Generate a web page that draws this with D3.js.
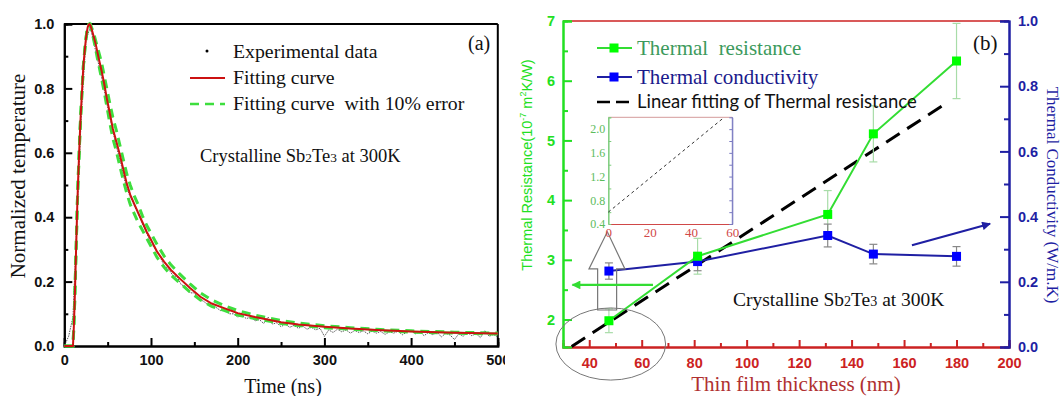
<!DOCTYPE html>
<html><head><meta charset="utf-8">
<script src="https://cdn.jsdelivr.net/npm/d3@7"></script>
<style>body{margin:0;background:#fff}svg{display:block}</style>
</head><body>
<svg id="chart" width="1063" height="396"></svg>
<script>
// ---------- Panel (a) data ----------
const fitT   = [0,5,9,10,11,12,13,14,15,16,17,18,19,20,21,22,23,24,25,26,27,28,29,30,32,34,36,38,40,43,46,49,52,56,60,64,68,72,76,80,85,90,95,100,107,115,123,133,145,157,170,185,195,200,220,237,250,270,300,330,360,400,450,500];
const fitV   = [0,0,0,0,0.06,0.14,0.24,0.34,0.44,0.52,0.59,0.66,0.72,0.77,0.82,0.87,0.90,0.93,0.955,0.975,0.99,0.998,1.0,0.997,0.98,0.96,0.94,0.915,0.89,0.855,0.815,0.77,0.73,0.675,0.635,0.595,0.55,0.505,0.47,0.445,0.415,0.385,0.355,0.33,0.293,0.262,0.236,0.21,0.18,0.153,0.132,0.117,0.107,0.102,0.09,0.081,0.074,0.067,0.06,0.054,0.05,0.045,0.041,0.039];
const upperV = [0,0,0,0,0.06,0.14,0.24,0.34,0.44,0.52,0.59,0.66,0.72,0.77,0.82,0.87,0.90,0.93,0.955,0.975,0.99,0.998,1.0,1.0,0.985,0.97,0.95,0.93,0.91,0.88,0.84,0.80,0.76,0.71,0.67,0.625,0.58,0.535,0.50,0.47,0.44,0.405,0.375,0.35,0.315,0.28,0.252,0.224,0.193,0.165,0.143,0.125,0.115,0.11,0.096,0.086,0.079,0.071,0.063,0.057,0.052,0.047,0.043,0.04];
const lowerV = [0,0,0,0,0.06,0.14,0.24,0.34,0.44,0.52,0.59,0.66,0.72,0.77,0.82,0.87,0.90,0.93,0.955,0.975,0.99,0.998,1.0,0.993,0.975,0.95,0.925,0.895,0.87,0.83,0.79,0.745,0.70,0.645,0.605,0.56,0.515,0.475,0.44,0.415,0.385,0.36,0.335,0.31,0.275,0.245,0.22,0.196,0.168,0.143,0.123,0.11,0.1,0.096,0.085,0.077,0.07,0.064,0.057,0.052,0.048,0.043,0.04,0.037];
const expT = [0,5,10,15,20,25,30,35,40,45,50,55,60,65,70,75,80,85,90,95,100,105,110,115,120,125,130,135,140,145,150,155,160,165,170,175,180,185,190,195,200,205,210,215,220,225,230,235,240,245,250,255,260,265,270,275,280,285,290,295,300,305,310,315,320,325,330,335,340,345,350,355,360,365,370,375,380,385,390,395,400,405,410,415,420,425,430,435,440,445,450,455,460,465,470,475,480,485,490,495,500];
const expV = [0,0.03,0.09,0.42,0.74,0.95,0.99,0.93,0.87,0.81,0.74,0.68,0.62,0.57,0.51,0.47,0.44,0.41,0.38,0.35,0.32,0.30,0.28,0.25,0.24,0.22,0.215,0.19,0.185,0.165,0.165,0.145,0.14,0.13,0.125,0.12,0.11,0.115,0.10,0.10,0.09,0.095,0.085,0.09,0.078,0.082,0.07,0.09,0.068,0.072,0.06,0.068,0.058,0.064,0.055,0.062,0.052,0.058,0.05,0.055,0.03,0.05,0.042,0.052,0.044,0.05,0.04,0.048,0.042,0.047,0.038,0.046,0.04,0.045,0.036,0.044,0.04,0.046,0.035,0.043,0.048,0.038,0.044,0.032,0.042,0.035,0.043,0.028,0.04,0.034,0.02,0.038,0.03,0.042,0.032,0.038,0.026,0.048,0.03,0.036,0.028];
const aXTicks = [0,100,200,300,400,500];
const aXMinor = [50,150,250,350,450];
const aYTicks = [0,0.2,0.4,0.6,0.8,1.0];
const aYMinor = [0.1,0.3,0.5,0.7,0.9];

// ---------- Panel (b) data ----------
const thickness   = [47.5,81.3,130.9,148.3,180];
const resistance  = [1.98,3.06,3.76,5.11,6.33];
const resistErr   = [0.2,0.3,0.4,0.47,0.63];
const conductivity= [0.233,0.262,0.342,0.285,0.278];
const conductErr  = [0.025,0.028,0.035,0.03,0.03];
const fitLineX = [33.3,176];
const fitLineY = [1.55,5.62];
const insetLineX = [0,55.4];
const insetLineY = [0.6,2.18];
const bXTicks = [40,60,80,100,120,140,160,180,200];
const bXMinor = [50,70,90,110,130,150,170,190];
const bYLTicks = [2,3,4,5,6,7];
const bYLMinor = [2.5,3.5,4.5,5.5,6.5];
const bYRTicks = [0,0.2,0.4,0.6,0.8,1.0];
const bYRMinor = [0.1,0.3,0.5,0.7,0.9];
const insetXTicks = [0,20,40,60];
const insetYTicks = [0.4,0.8,1.2,1.6,2.0];

const svg = d3.select("#chart");
const serif = "'Liberation Serif','DejaVu Serif',serif";
const sans = "'Liberation Sans',Arial,sans-serif";

// ================= Panel (a) =================
svg.append("clipPath").attr("id","clipA").append("rect").attr("x",0).attr("y",0).attr("width",505).attr("height",396);
const A = svg.append("g").attr("clip-path","url(#clipA)");
const xa = d3.scaleLinear().domain([0,500]).range([64.3,497.8]);
const ya = d3.scaleLinear().domain([0,1]).range([346,24]);

function styleAxis(g, color, sw){
  g.select(".domain").attr("stroke",color).attr("stroke-width",sw);
  g.selectAll(".tick line").attr("stroke",color).attr("stroke-width",sw);
}
let g = A.append("g").attr("transform","translate(0,346)").call(d3.axisBottom(xa).tickValues(aXMinor).tickSize(-4).tickFormat(""));
styleAxis(g,"#000",2);
g = A.append("g").attr("transform","translate(64.3,0)").call(d3.axisLeft(ya).tickValues(aYMinor).tickSize(-4).tickFormat(""));
styleAxis(g,"#000",2);
g = A.append("g").attr("transform","translate(0,346)").call(d3.axisBottom(xa).tickValues(aXTicks).tickSize(-8).tickPadding(9).tickFormat(d3.format("d")));
styleAxis(g,"#000",2);
g.selectAll("text").attr("font-family",sans).attr("font-weight","bold").attr("font-size",14.5).attr("fill","#111");
g = A.append("g").attr("transform","translate(64.3,0)").call(d3.axisLeft(ya).tickValues(aYTicks).tickSize(-8).tickPadding(10).tickFormat(d3.format(".1f")));
styleAxis(g,"#000",2);
g.selectAll("text").attr("font-family",sans).attr("font-weight","bold").attr("font-size",14.5).attr("fill","#111");
A.append("line").attr("x1",64.3).attr("x2",497.8).attr("y1",24).attr("y2",24).attr("stroke","#000").attr("stroke-width",2);
A.append("line").attr("x1",497.8).attr("x2",497.8).attr("y1",24).attr("y2",346).attr("stroke","#000").attr("stroke-width",2);

const lineA = d3.line().x(d=>xa(d[0])).y(d=>ya(d[1]));
A.append("path").attr("d",lineA(expT.map((t,i)=>[t,expV[i]]))).attr("fill","none").attr("stroke","#444").attr("stroke-width",0.9).attr("stroke-dasharray","1.5,1");
[upperV,lowerV].forEach(arr=>{
  A.append("path").attr("d",lineA(fitT.map((t,i)=>[t,arr[i]]))).attr("fill","none").attr("stroke","#3ede3e").attr("stroke-width",3).attr("stroke-dasharray","9,6");
});
A.append("path").attr("d",lineA(fitT.map((t,i)=>[t,fitV[i]]))).attr("fill","none").attr("stroke","#cc1111").attr("stroke-width",2);

// legend a
A.append("circle").attr("cx",207).attr("cy",51).attr("r",1.5).attr("fill","#000");
A.append("line").attr("x1",190).attr("x2",225).attr("y1",78).attr("y2",78).attr("stroke","#cc1111").attr("stroke-width",2);
A.append("line").attr("x1",190).attr("x2",225).attr("y1",104).attr("y2",104).attr("stroke","#3ede3e").attr("stroke-width",2.5).attr("stroke-dasharray","9,6");
const legA = [["Experimental data",58],["Fitting curve",84],["Fitting curve  with 10% error",110]];
legA.forEach(([t,y])=>A.append("text").attr("x",233).attr("y",y).attr("font-family",serif).attr("font-size",19.8).attr("fill","#111").attr("xml:space","preserve").text(t));
A.append("text").attr("x",468).attr("y",50).attr("font-family",serif).attr("font-size",20).attr("fill","#111").text("(a)");
function crystal(sel,x,y,fs){
  const t = sel.append("text").attr("x",x).attr("y",y).attr("font-family",serif).attr("font-size",fs).attr("fill","#111");
  t.append("tspan").text("Crystalline Sb");
  t.append("tspan").attr("font-size",fs*0.72).text("2");
  t.append("tspan").text("Te");
  t.append("tspan").attr("font-size",fs*0.72).text("3");
  t.append("tspan").text(" at 300K");
}
crystal(A,200,162,18.5);
A.append("text").attr("transform","translate(25,176) rotate(-90)").attr("text-anchor","middle").attr("font-family",serif).attr("font-size",21).attr("fill","#111").text("Normalized temperature");
A.append("text").attr("x",283).attr("y",393).attr("text-anchor","middle").attr("font-family",serif).attr("font-size",20).attr("fill","#111").text("Time (ns)");

// ================= Panel (b) =================
const B = svg.append("g");
const xb = d3.scaleLinear().domain([30,200]).range([563,1009]);
const yl = d3.scaleLinear().domain([1.54,7]).range([347,21]);
const yr = d3.scaleLinear().domain([0,1]).range([347,21]);
const GREEN="#22e022", BLUE="#1f1fa3", RED="#cc2222";

B.append("line").attr("x1",563).attr("x2",1009).attr("y1",21).attr("y2",21).attr("stroke",RED).attr("stroke-width",1.5);
g = B.append("g").attr("transform","translate(0,347)").call(d3.axisBottom(xb).tickValues(bXMinor).tickSize(-4).tickFormat(""));
styleAxis(g,RED,2);
g = B.append("g").attr("transform","translate(0,347)").call(d3.axisBottom(xb).tickValues(bXTicks).tickSize(-7).tickPadding(11).tickFormat(d3.format("d")));
styleAxis(g,RED,2);
g.selectAll("text").attr("font-family",sans).attr("font-weight","bold").attr("font-size",14.5).attr("fill",RED);
g = B.append("g").attr("transform","translate(563,0)").call(d3.axisLeft(yl).tickValues(bYLMinor).tickSize(-5).tickFormat(""));
styleAxis(g,GREEN,2);
g = B.append("g").attr("transform","translate(563,0)").call(d3.axisLeft(yl).tickValues(bYLTicks).tickSize(-9).tickPadding(8).tickFormat(d3.format("d")));
styleAxis(g,GREEN,2);
g.selectAll("text").attr("font-family",sans).attr("font-weight","bold").attr("font-size",14.5).attr("fill",GREEN);
g = B.append("g").attr("transform","translate(1009,0)").call(d3.axisRight(yr).tickValues(bYRMinor).tickSize(-5).tickFormat(""));
styleAxis(g,BLUE,2);
g = B.append("g").attr("transform","translate(1009,0)").call(d3.axisRight(yr).tickValues(bYRTicks).tickSize(-9).tickPadding(9).tickFormat(d3.format(".1f")));
styleAxis(g,BLUE,2);
g.selectAll("text").attr("font-family",sans).attr("font-weight","bold").attr("font-size",14.5).attr("fill",BLUE);

B.append("path").attr("d",d3.line().x(d=>xb(d[0])).y(d=>yl(d[1]))(fitLineX.map((x,i)=>[x,fitLineY[i]])))
  .attr("stroke","#000").attr("stroke-width",3).attr("stroke-dasharray","16,9").attr("fill","none");

function errBars(vals, errs, ys, color){
  thickness.forEach((t,i)=>{
    const x=xb(t), y1=ys(vals[i]-errs[i]), y2=ys(vals[i]+errs[i]);
    B.append("line").attr("x1",x).attr("x2",x).attr("y1",y1).attr("y2",y2).attr("stroke",color).attr("stroke-width",1.2);
    [y1,y2].forEach(y=>B.append("line").attr("x1",x-4).attr("x2",x+4).attr("y1",y).attr("y2",y).attr("stroke",color).attr("stroke-width",1.2));
  });
}
errBars(resistance,resistErr,yl,"#a8dca8");
errBars(conductivity,conductErr,yr,"#888");
B.append("path").attr("d",d3.line().x((d,i)=>xb(thickness[i])).y(d=>yr(d))(conductivity)).attr("fill","none").attr("stroke",BLUE).attr("stroke-width",2);
B.append("path").attr("d",d3.line().x((d,i)=>xb(thickness[i])).y(d=>yl(d))(resistance)).attr("fill","none").attr("stroke","#33dd33").attr("stroke-width",2);
conductivity.forEach((v,i)=>B.append("rect").attr("x",xb(thickness[i])-4.5).attr("y",yr(v)-4.5).attr("width",9).attr("height",9).attr("fill","#0000ff"));
resistance.forEach((v,i)=>B.append("rect").attr("x",xb(thickness[i])-4.5).attr("y",yl(v)-4.5).attr("width",9).attr("height",9).attr("fill","#00ff00"));

B.append("line").attr("x1",597).attr("x2",632).attr("y1",48).attr("y2",48).attr("stroke","#33dd33").attr("stroke-width",2);
B.append("rect").attr("x",609.5).attr("y",43.5).attr("width",9).attr("height",9).attr("fill","#00ff00");
B.append("line").attr("x1",597).attr("x2",632).attr("y1",77).attr("y2",77).attr("stroke",BLUE).attr("stroke-width",2);
B.append("rect").attr("x",609.5).attr("y",72.5).attr("width",9).attr("height",9).attr("fill","#0000ff");
B.append("line").attr("x1",597).attr("x2",632).attr("y1",102).attr("y2",102).attr("stroke","#000").attr("stroke-width",2.5).attr("stroke-dasharray","13,6");
B.append("text").attr("x",637).attr("y",55).attr("font-family",serif).attr("font-size",21).attr("fill","#3c9a5c").attr("xml:space","preserve").text("Thermal  resistance");
B.append("text").attr("x",637).attr("y",84).attr("font-family",serif).attr("font-size",21).attr("fill","#1a1a8c").text("Thermal conductivity");
B.append("text").attr("x",637).attr("y",108).attr("font-family","Lato,'Open Sans',sans-serif").attr("font-size",18.5).attr("fill","#111").text("Linear fitting of Thermal resistance");
B.append("text").attr("x",973).attr("y",50).attr("font-family",serif).attr("font-size",21).attr("fill","#111").text("(b)");
crystal(B,733,306,19.5);

B.append("ellipse").attr("cx",xb(48.2)).attr("cy",yl(1.59)).attr("rx",xb(48.2+20.9)-xb(48.2)).attr("ry",yl(1.59)-yl(1.59+0.604))
  .attr("fill","none").attr("stroke","#777").attr("stroke-width",1);
const hollow = [[43.2,2.16],[43.2,2.848],[39.9,2.848],[46.9,3.47],[53.6,2.848],[50.44,2.848],[50.44,2.16]];
B.append("path").attr("d",d3.line().x(d=>xb(d[0])).y(d=>yl(d[1]))(hollow)+"Z").attr("fill","none").attr("stroke","#777").attr("stroke-width",1.2);
svg.append("defs").html('<marker id="ag" viewBox="0 0 10 10" refX="9" refY="5" markerWidth="5" markerHeight="4" orient="auto-start-reverse"><path d="M0,0L10,5L0,10Z" fill="#33dd33"/></marker><marker id="ab" viewBox="0 0 10 10" refX="9" refY="5" markerWidth="5" markerHeight="4" orient="auto-start-reverse"><path d="M0,0L10,5L0,10Z" fill="#1f1fa3"/></marker>');
B.append("line").attr("x1",xb(64.3)).attr("x2",xb(33.6)).attr("y1",yl(2.58)).attr("y2",yl(2.58)).attr("stroke","#33dd33").attr("stroke-width",2.2).attr("marker-end","url(#ag)");
B.append("line").attr("x1",xb(163)).attr("x2",xb(192.8)).attr("y1",yr(0.312)).attr("y2",yr(0.378)).attr("stroke",BLUE).attr("stroke-width",2.2).attr("marker-end","url(#ab)");

const xi = d3.scaleLinear().domain([0,60]).range([608.3,732.3]);
const yi = d3.scaleLinear().domain([0.4,2.2]).range([224,117.3]);
const I = B.append("g");
I.append("rect").attr("x",608.3).attr("y",117.3).attr("width",124).attr("height",106.7).attr("fill","#fff");
I.append("line").attr("x1",608.3).attr("x2",732.3).attr("y1",117.3).attr("y2",117.3).attr("stroke","#d49a9a").attr("stroke-width",1);
I.append("line").attr("x1",732.3).attr("x2",732.3).attr("y1",117.3).attr("y2",224).attr("stroke","#7a7ac0").attr("stroke-width",1);
g = I.append("g").attr("transform","translate(0,224)").call(d3.axisBottom(xi).tickValues(insetXTicks).tickSize(0).tickPadding(4).tickFormat(d3.format("d")));
styleAxis(g,"#d04848",1.2);
g.selectAll("text").attr("font-family",serif).attr("font-size",13).attr("fill","#d04848");
g = I.append("g").attr("transform","translate(608.3,0)").call(d3.axisLeft(yi).tickValues(insetYTicks).tickSize(0).tickPadding(3).tickFormat(d3.format(".1f")));
styleAxis(g,"#7ccc7c",1.2);
g.selectAll("text").attr("font-family",serif).attr("font-size",12).attr("fill","#5cbc5c");
g = I.append("g").attr("transform","translate(608.3,0)").call(d3.axisLeft(yi).tickValues([0.6,1.0,1.4,1.8,2.2]).tickSize(-3).tickFormat(""));
styleAxis(g,"#7ccc7c",1);
g = I.append("g").attr("transform","translate(732.3,0)").call(d3.axisRight(yi).tickValues([0.4,0.6,0.8,1.0,1.2,1.4,1.6,1.8,2.0]).tickSize(-3).tickFormat(""));
styleAxis(g,"#7a7ac0",1);
I.append("path").attr("d",d3.line().x(d=>xi(d[0])).y(d=>yi(d[1]))(insetLineX.map((x,i)=>[x,insetLineY[i]])))
  .attr("stroke","#333").attr("stroke-width",1).attr("stroke-dasharray","3,3").attr("fill","none");

const lt = B.append("text").attr("transform","translate(532,165) rotate(-90)").attr("text-anchor","middle").attr("font-family",sans).attr("font-size",14.5).attr("fill",GREEN);
lt.append("tspan").text("Thermal Resistance(10");
lt.append("tspan").attr("font-size",9).attr("dy",-6).text("-7");
lt.append("tspan").attr("dy",6).text(" m");
lt.append("tspan").attr("font-size",9).attr("dy",-6).text("2");
lt.append("tspan").attr("dy",6).text("K/W)");
B.append("text").attr("transform","translate(1047,195) rotate(90)").attr("text-anchor","middle").attr("font-family",serif).attr("font-size",17).attr("fill",BLUE).text("Thermal Conductivity (W/m.K)");
B.append("text").attr("x",796).attr("y",391).attr("text-anchor","middle").attr("font-family",serif).attr("font-size",21).attr("fill","#b03030").text("Thin film thickness (nm)");
</script>
</body></html>
